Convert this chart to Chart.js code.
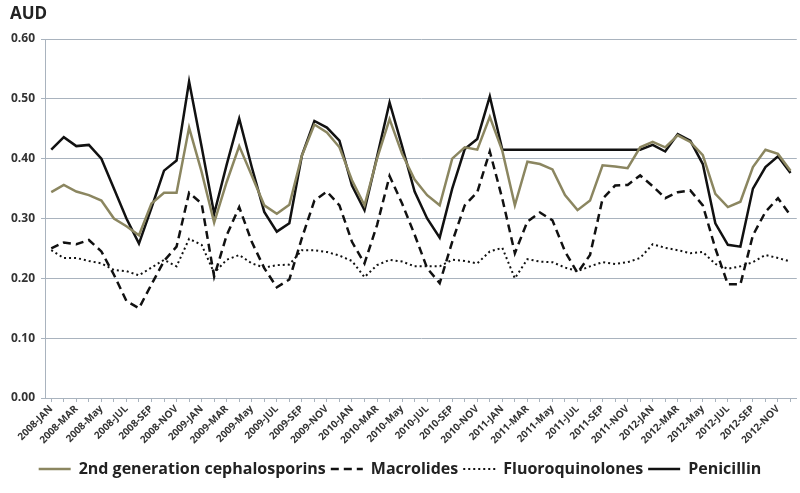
<!DOCTYPE html>
<html>
<head>
<meta charset="utf-8">
<script src="https://cdn.jsdelivr.net/npm/chart.js@4.4.1/dist/chart.umd.min.js"></script>
<style>
  html, body { margin: 0; padding: 0; background: #fff; }
  #wrap { width: 800px; height: 493px; position: relative; }
</style>
</head>
<body>
<div id="wrap"><canvas id="chart"></canvas></div>
<script>
var years = ["2008", "2009", "2010", "2011", "2012"];
var months = ["JAN", "FEB", "MAR", "APR", "May", "JUN", "JUL", "AUG", "SEP", "OCT", "NOV", "DEC"];

var labels = [];
years.forEach(function (y) {
  months.forEach(function (m) {
    labels.push(y + "-" + m);
  });
});

var cephalosporins = [
  0.344, 0.356, 0.345, 0.339, 0.330, 0.300, 0.287, 0.272, 0.325, 0.343, 0.343, 0.452,
  0.378, 0.293, 0.361, 0.421, 0.372, 0.322, 0.308, 0.323, 0.405, 0.457, 0.444, 0.419,
  0.364, 0.322, 0.400, 0.466, 0.408, 0.365, 0.339, 0.322, 0.400, 0.419, 0.415, 0.470,
  0.413, 0.322, 0.395, 0.391, 0.382, 0.339, 0.314, 0.330, 0.389, 0.387, 0.384, 0.419,
  0.428, 0.419, 0.439, 0.428, 0.406, 0.341, 0.319, 0.328, 0.386, 0.415, 0.408, 0.380
];
var macrolides = [
  0.250, 0.260, 0.257, 0.264, 0.245, 0.206, 0.162, 0.150, 0.190, 0.229, 0.253, 0.343,
  0.325, 0.203, 0.272, 0.319, 0.261, 0.217, 0.185, 0.198, 0.267, 0.330, 0.345, 0.322,
  0.261, 0.225, 0.289, 0.371, 0.325, 0.273, 0.217, 0.192, 0.261, 0.322, 0.344, 0.412,
  0.333, 0.242, 0.295, 0.310, 0.297, 0.245, 0.209, 0.239, 0.333, 0.355, 0.356, 0.372,
  0.354, 0.334, 0.344, 0.347, 0.322, 0.250, 0.190, 0.190, 0.272, 0.311, 0.334, 0.305
];
var fluoroquinolones = [
  0.247, 0.234, 0.234, 0.229, 0.225, 0.214, 0.212, 0.205, 0.218, 0.231, 0.220, 0.266,
  0.256, 0.209, 0.231, 0.239, 0.225, 0.218, 0.222, 0.223, 0.247, 0.247, 0.244, 0.238,
  0.229, 0.202, 0.222, 0.231, 0.228, 0.220, 0.220, 0.220, 0.231, 0.229, 0.225, 0.245,
  0.251, 0.200, 0.232, 0.228, 0.227, 0.218, 0.212, 0.220, 0.227, 0.224, 0.227, 0.234,
  0.257, 0.251, 0.247, 0.242, 0.244, 0.224, 0.216, 0.220, 0.227, 0.239, 0.234, 0.228
];
var penicillin = [
  0.415, 0.436, 0.421, 0.423, 0.400, 0.350, 0.300, 0.258, 0.318, 0.380, 0.397, 0.529,
  0.420, 0.308, 0.390, 0.467, 0.386, 0.311, 0.278, 0.292, 0.405, 0.463, 0.452, 0.430,
  0.355, 0.314, 0.403, 0.494, 0.421, 0.345, 0.300, 0.268, 0.350, 0.416, 0.433, 0.504,
  0.415, 0.415, 0.415, 0.415, 0.415, 0.415, 0.415, 0.415, 0.415, 0.415, 0.415, 0.415,
  0.423, 0.412, 0.441, 0.430, 0.391, 0.292, 0.256, 0.253, 0.350, 0.386, 0.404, 0.376
];

var seriesNames = ["2nd generation cephalosporins", "Macrolides", "Fluoroquinolones", "Penicillin"];
var yTicks = [0, 0.1, 0.2, 0.3, 0.4, 0.5, 0.6];

var gridColor = "#a9b3be";
var textColor = "#333333";

function line(label, values, color, width, dash) {
  return {
    label: label,
    data: values,
    borderColor: color,
    backgroundColor: color,
    borderWidth: width,
    borderDash: dash,
    pointRadius: 0,
    pointHoverRadius: 0,
    tension: 0,
    fill: false
  };
}

// AUD unit label in the top-left corner
var unitLabel = {
  id: "unitLabel",
  afterDraw: function (chart) {
    var ctx = chart.ctx;
    ctx.save();
    ctx.font = "bold 17px 'Open Sans'";
    ctx.fillStyle = "#222";
    ctx.textBaseline = "alphabetic";
    ctx.fillText("AUD", 10, 19);
    ctx.restore();
  }
};

var config = {
  type: "line",
  data: {
    labels: labels,
    datasets: [
      line(seriesNames[0], cephalosporins, "#8b8660", 2.5, []),
      line(seriesNames[1], macrolides, "#111111", 2.5, [8, 5]),
      line(seriesNames[2], fluoroquinolones, "#111111", 2, [2, 3]),
      line(seriesNames[3], penicillin, "#111111", 2.5, [])
    ]
  },
  options: {
    responsive: true,
    maintainAspectRatio: false,
    animation: false,
    layout: { padding: { top: 39, left: 0, right: 0, bottom: 6 } },
    plugins: {
      tooltip: { enabled: false },
      legend: {
        position: "bottom",
        labels: {
          usePointStyle: true,
          pointStyle: "line",
          pointStyleWidth: 32,
          boxHeight: 16,
          padding: 5,
          color: "#222",
          font: { family: "'Open Sans'", size: 16, weight: "bold" },
          generateLabels: function (chart) {
            var items = Chart.defaults.plugins.legend.labels.generateLabels(chart);
            items.forEach(function (item) {
              var ds = chart.data.datasets[item.datasetIndex];
              item.lineDash = ds.borderDash;
              item.lineWidth = ds.borderWidth;
            });
            return items;
          }
        }
      }
    },
    scales: {
      x: {
        offset: true,
        grid: {
          display: true,
          drawOnChartArea: false,
          drawTicks: true,
          tickLength: 4,
          color: gridColor
        },
        border: { color: gridColor, width: 1 },
        ticks: {
          autoSkip: false,
          maxRotation: 45,
          minRotation: 45,
          padding: 1,
          color: textColor,
          font: { family: "'Open Sans'", size: 10, weight: "bold" },
          callback: function (value, index) {
            return index % 2 === 0 ? labels[index] : "";
          }
        },
        afterFit: function (scale) { scale.height = 58; }
      },
      y: {
        min: 0,
        max: 0.6,
        afterBuildTicks: function (scale) {
          scale.ticks = yTicks.map(function (v) { return { value: v }; });
        },
        grid: { color: gridColor, drawTicks: true, tickLength: 4 },
        border: { color: gridColor },
        ticks: {
          padding: 6,
          color: textColor,
          font: { family: "'Open Sans'", size: 12, weight: "bold" },
          callback: function (value) { return value.toFixed(2); }
        },
        afterFit: function (scale) { scale.width = 45; }
      }
    }
  },
  plugins: [unitLabel]
};

var myChart = new Chart(document.getElementById("chart"), config);
</script>
</body>
</html>
